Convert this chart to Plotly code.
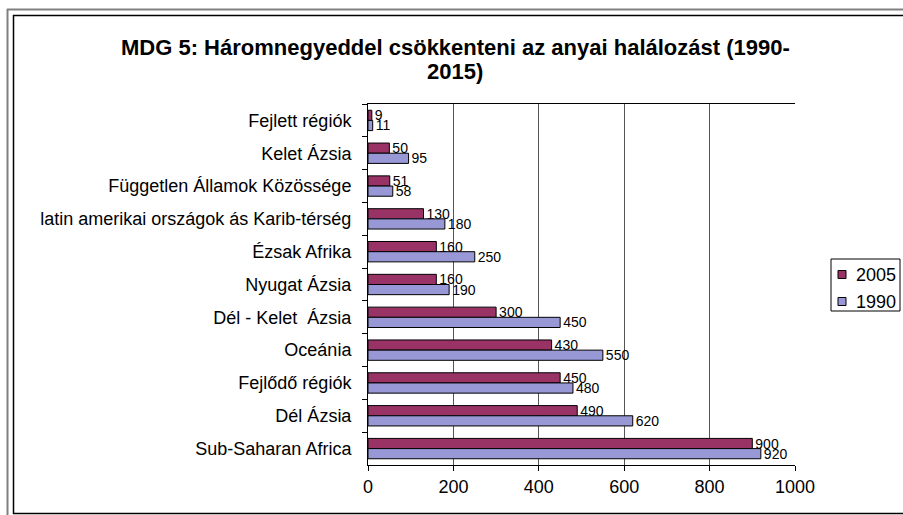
import plotly.graph_objects as go

categories = ["Fejlett régiók", "Kelet Ázsia", "Független Államok Közössége",
              "latin amerikai országok ás Karib-térség", "Ézsak Afrika", "Nyugat Ázsia",
              "Dél - Kelet  Ázsia", "Oceánia", "Fejlődő régiók", "Dél Ázsia", "Sub-Saharan Africa"]
series_names = ["2005", "1990"]
values_2005 = [9, 50, 51, 130, 160, 160, 300, 430, 450, 490, 900]
values_1990 = [11, 95, 58, 180, 250, 190, 450, 550, 480, 620, 920]
x_ticks = [0, 200, 400, 600, 800, 1000]
title_lines = ["MDG 5: Háromnegyeddel csökkenteni az anyai halálozást (1990-", "2015)"]
colors = ["#993366", "#9898D6"]

W, H = 903, 515
L, R, T, B = 368, 795, 104, 465
FONT = "Liberation Sans, Arial, sans-serif"

def px(x):
    return (x - L) / (R - L)

def py(y):
    return (B - y) / (B - T)

fig = go.Figure()
for name, vals, col in zip(series_names, [values_2005, values_1990], colors):
    fig.add_trace(go.Bar(y=categories, x=vals, name=name, orientation="h",
                         marker=dict(color=col, line=dict(color="black", width=1)),
                         text=[str(v) for v in vals], textposition="outside",
                         textfont=dict(size=14, color="black", family=FONT),
                         constraintext="none", cliponaxis=False, showlegend=False))

shapes = [
    dict(type="line", xref="paper", yref="paper", x0=px(7), x1=px(903), y0=py(9.5), y1=py(9.5),
         line=dict(color="#808080", width=2)),
    dict(type="line", xref="paper", yref="paper", x0=px(7.5), x1=px(7.5), y0=py(9), y1=py(515),
         line=dict(color="#808080", width=2)),
    dict(type="line", xref="paper", yref="paper", x0=px(13), x1=px(903), y0=py(15.5), y1=py(15.5),
         line=dict(color="black", width=1.5)),
    dict(type="line", xref="paper", yref="paper", x0=px(13.5), x1=px(13.5), y0=py(15), y1=py(514),
         line=dict(color="black", width=1.5)),
    dict(type="line", xref="paper", yref="paper", x0=px(13), x1=px(903), y0=py(513.5), y1=py(513.5),
         line=dict(color="black", width=1.5)),
    # legend box
    dict(type="rect", xref="paper", yref="paper", x0=px(831), x1=px(900), y0=py(259), y1=py(311),
         line=dict(color="black", width=1), fillcolor="white"),
]
annotations = []
for txt, yc in zip(title_lines, [48, 72]):
    annotations.append(dict(text="<b>" + txt + "</b>", xref="paper", yref="paper",
                            x=px(455), y=py(yc), xanchor="center", yanchor="middle",
                            showarrow=False, font=dict(size=22, family=FONT, color="black")))
legend_rows = [274.5, 301.5]
for name, col, yc in zip(series_names, colors, legend_rows):
    shapes.append(dict(type="rect", xref="paper", yref="paper",
                       x0=px(838), x1=px(846), y0=py(yc - 4), y1=py(yc + 4),
                       line=dict(color="black", width=1), fillcolor=col))
    annotations.append(dict(text=name, xref="paper", yref="paper", x=px(854), y=py(yc),
                            xanchor="left", yanchor="middle", showarrow=False,
                            font=dict(size=18, family=FONT, color="black")))

fig.update_layout(
    width=W, height=H,
    margin=dict(l=L, r=W - R, t=T, b=H - B, pad=0),
    paper_bgcolor="white", plot_bgcolor="white",
    font=dict(family=FONT, color="black", size=18),
    barmode="group", bargap=0.38, bargroupgap=0.0,
    xaxis=dict(range=[0, 1000], tickvals=x_ticks, showgrid=True, gridcolor="#555555", gridwidth=1,
               showline=True, linecolor="black", linewidth=1, mirror=True,
               ticks="outside", ticklen=5, tickcolor="black", zeroline=False,
               tickfont=dict(size=18), ticklabelstandoff=0, fixedrange=True),
    yaxis=dict(autorange="reversed", type="category", showline=True, linecolor="black", linewidth=1,
               ticks="outside", ticklen=5, tickcolor="black", tickson="boundaries",
               showgrid=False, tickfont=dict(size=18), ticklabelstandoff=12),
    showlegend=False,
    shapes=shapes,
    annotations=annotations,
)

fig.write_html("out.html", config={"displayModeBar": False},
               post_script="document.body.style.margin='0';document.body.style.padding='0';")
